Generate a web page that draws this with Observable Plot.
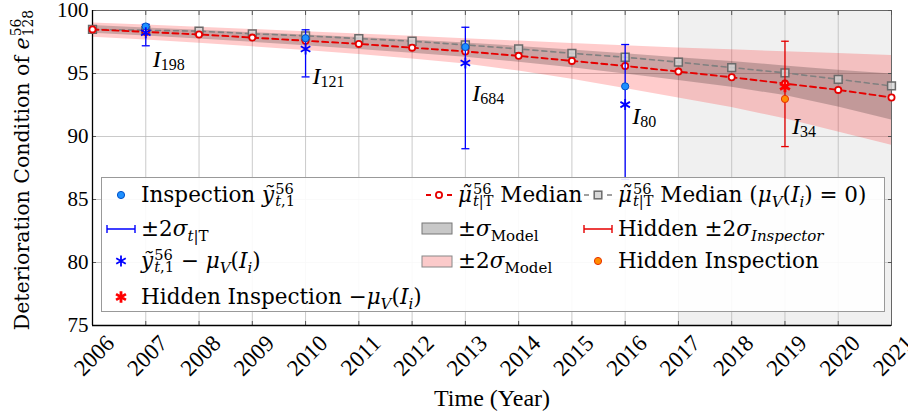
<!DOCTYPE html>
<html>
<head>
<meta charset="utf-8">
<script src="https://cdn.jsdelivr.net/npm/d3@7"></script>
<script src="https://cdn.jsdelivr.net/npm/@observablehq/plot@0.6"></script>
<style>
  body { margin: 0; background: #fff; }
  #wrap { position: relative; width: 908px; height: 417px; font-family: "Liberation Serif", serif; color: #000; overflow: hidden; }
  #wrap svg.plot { position: absolute; left: 0; top: 0; }
  .abs { position: absolute; }
  .txt { position: absolute; white-space: nowrap; font-family: "DejaVu Serif", serif; font-size: 21.5px; line-height: 1; transform: translateY(-50%); }
  .ss { display: inline-flex; flex-direction: column; font-size: 0.68em; line-height: 0.86; vertical-align: 0.57em; margin: -0.6em 0 -0.6em 1px; }
  .sb { font-size: 0.7em; vertical-align: -0.3em; line-height: 0; }
  i { font-style: italic; }
  #ylab { position: absolute; left: 22px; top: 170px; transform: translate(-50%, -50%) rotate(-90deg); white-space: nowrap; font-family: "DejaVu Serif", serif; font-size: 20.5px; line-height: 1; }
  #legendbox { position: absolute; left: 101px; top: 177px; width: 782px; height: 133px; border: 1px solid #999; background: rgba(255,255,255,0.9); }
</style>
</head>
<body>
<div id="wrap"></div>
<script>
// ---------- data ----------
const years = [2006, 2007, 2008, 2009, 2010, 2011, 2012, 2013, 2014, 2015, 2016, 2017, 2018, 2019, 2020, 2021];
const medianRed  = [98.5, 98.3, 98.1, 97.85, 97.6, 97.35, 97.05, 96.75, 96.4, 96.0, 95.6, 95.15, 94.7, 94.2, 93.7, 93.1];
const medianZero = [98.5, 98.43, 98.36, 98.15, 97.99, 97.77, 97.56, 97.27, 96.95, 96.6, 96.29, 95.9, 95.47, 95.05, 94.54, 94.01];
const sigma1Hi = [98.8, 98.62, 98.43, 98.24, 98.05, 97.85, 97.65, 97.43, 97.15, 96.86, 96.56, 96.25, 95.95, 95.6, 95.25, 94.97];
const sigma1Lo = [98.2, 97.98, 97.74, 97.48, 97.2, 96.9, 96.6, 96.29, 95.9, 95.45, 94.97, 94.45, 93.9, 93.25, 92.35, 91.3];
const sigma2Hi = [99.0, 98.85, 98.68, 98.5, 98.32, 98.14, 97.95, 97.75, 97.57, 97.38, 97.2, 97.03, 96.88, 96.73, 96.58, 96.42];
const sigma2Lo = [97.88, 97.65, 97.4, 97.12, 96.83, 96.5, 96.15, 95.76, 95.2, 94.55, 93.8, 93.05, 92.3, 91.4, 90.35, 89.3];

const inspYears    = [2007, 2010, 2013, 2016];
const inspObserved = [98.73, 97.8, 97.1, 93.98];
const inspAdjusted = [98.23, 96.95, 95.84, 92.53];
const inspBarLo    = [97.2, 94.73, 89.03, 86.6];
const inspBarHi    = [98.9, 98.47, 98.67, 97.3];
const inspIds      = ["198", "121", "684", "80"];
const inspLabelY   = [95.49, 94.2, 92.85, 91.0];

const hiddenYears    = [2019];
const hiddenObserved = [92.98];
const hiddenAdjusted = [93.96];
const hiddenBarLo    = [89.2];
const hiddenBarHi    = [97.56];
const hiddenIds      = ["34"];
const hiddenLabelY   = [90.22];

const forecastSpan = [2017, 2021];
const yTicks = [75, 80, 85, 90, 95, 100];

// ---------- tables ----------
const series = years.map((year, i) => ({
  year, med: medianRed[i], med0: medianZero[i],
  hi1: sigma1Hi[i], lo1: sigma1Lo[i], hi2: sigma2Hi[i], lo2: sigma2Lo[i]
}));
const insp = inspYears.map((year, i) => ({
  year, obs: inspObserved[i], adj: inspAdjusted[i], lo: inspBarLo[i], hi: inspBarHi[i], id: inspIds[i], ly: inspLabelY[i]
}));
const hidden = hiddenYears.map((year, i) => ({
  year, obs: hiddenObserved[i], adj: hiddenAdjusted[i], lo: hiddenBarLo[i], hi: hiddenBarHi[i], id: hiddenIds[i], ly: hiddenLabelY[i]
}));
const labels = insp.concat(hidden);

// horizontal cap symbol for error bars
const capSymbol = {
  draw(context, size) {
    const w = Math.sqrt(size / Math.PI);
    context.moveTo(-w, 0);
    context.lineTo(w, 0);
  }
};

const RED = "#e60000";
const BLUE = "#0000ff";
const noLabel = () => "";

const chart = Plot.plot({
  width: 908,
  height: 417,
  marginLeft: 92,
  marginRight: 17,
  marginTop: 10,
  marginBottom: 92,
  style: { fontFamily: "Liberation Serif, serif", background: "transparent", color: "#000" },
  x: { domain: [years[0], years[years.length - 1]] },
  y: { domain: [yTicks[0], yTicks[yTicks.length - 1]] },
  marks: [
    Plot.rect([{ x1: forecastSpan[0], x2: forecastSpan[1] }], { x1: "x1", x2: "x2", fill: "#f0f0f0" }),
    Plot.gridX({ ticks: years, stroke: "#b8b8b8", strokeOpacity: 0.75, strokeWidth: 1 }),
    Plot.gridY({ ticks: yTicks, stroke: "#b8b8b8", strokeOpacity: 0.75, strokeWidth: 1 }),
    Plot.areaY(series, { x: "year", y1: "lo2", y2: "hi2", fill: "#ff0000", fillOpacity: 0.2 }),
    Plot.areaY(series, { x: "year", y1: "lo1", y2: "hi1", fill: "#000000", fillOpacity: 0.2 }),
    Plot.frame({ stroke: "#666", strokeWidth: 1 }),
    // inward tick marks on all four sides
    Plot.axisX({ anchor: "bottom", ticks: years, tickSize: 4, dy: -4, tickFormat: noLabel, stroke: "#555", label: null }),
    Plot.axisX({ anchor: "top", ticks: years, tickSize: 4, dy: 4, tickFormat: noLabel, stroke: "#555", label: null }),
    Plot.axisY({ anchor: "left", ticks: yTicks, tickSize: 4, dx: 4, tickFormat: noLabel, stroke: "#555", label: null }),
    Plot.axisY({ anchor: "right", ticks: yTicks, tickSize: 4, dx: -4, tickFormat: noLabel, stroke: "#555", label: null }),
    Plot.ruleX([years[0]], { stroke: "#000", strokeWidth: 1.3 }),
    Plot.ruleY([yTicks[0]], { stroke: "#000", strokeWidth: 1.3 }),
    // gray median (muV = 0)
    Plot.line(series, { x: "year", y: "med0", stroke: "#808080", strokeWidth: 1.6, strokeDasharray: "5,4" }),
    Plot.dot(series, { x: "year", y: "med0", symbol: "square", r: 4.4, fill: "#d8d8d8", fillOpacity: 0.8, stroke: "#6a6a6a", strokeWidth: 1.5 }),
    // red median
    Plot.line(series, { x: "year", y: "med", stroke: RED, strokeWidth: 1.9, strokeDasharray: "6,4" }),
    Plot.dot(series, { x: "year", y: "med", r: 3.1, fill: "#fff", stroke: RED, strokeWidth: 1.8 }),
    // inspections
    Plot.ruleX(insp, { x: "year", y1: "lo", y2: "hi", stroke: BLUE, strokeWidth: 1.3 }),
    Plot.dot(insp, { x: "year", y: "lo", symbol: capSymbol, r: 4, fill: "none", stroke: BLUE, strokeWidth: 1.3 }),
    Plot.dot(insp, { x: "year", y: "hi", symbol: capSymbol, r: 4, fill: "none", stroke: BLUE, strokeWidth: 1.3 }),
    Plot.dot(insp, { x: "year", y: "obs", r: 3.6, fill: "#1e90ff", stroke: "#0050c8", strokeWidth: 1 }),
    Plot.dot(insp, { x: "year", y: "adj", symbol: "asterisk", r: 5.2, fill: "none", stroke: BLUE, strokeWidth: 1.8 }),
    // hidden inspection
    Plot.ruleX(hidden, { x: "year", y1: "lo", y2: "hi", stroke: RED, strokeWidth: 1.3 }),
    Plot.dot(hidden, { x: "year", y: "lo", symbol: capSymbol, r: 3.8, fill: "none", stroke: RED, strokeWidth: 1.3 }),
    Plot.dot(hidden, { x: "year", y: "hi", symbol: capSymbol, r: 3.8, fill: "none", stroke: RED, strokeWidth: 1.3 }),
    Plot.dot(hidden, { x: "year", y: "obs", r: 3.6, fill: "#ff8c00", stroke: "#e83000", strokeWidth: 1 }),
    Plot.dot(hidden, { x: "year", y: "adj", symbol: "asterisk", r: 5.4, fill: "none", stroke: "#ff0000", strokeWidth: 2.8 }),
    // I labels
    Plot.text(labels, { x: "year", y: "ly", text: "id", dx: 7, textAnchor: "start", lineAnchor: "bottom", fontSize: 24, fill: "#000", ariaLabel: () => "ilabel" }),
    // axes
    Plot.axisY({ ticks: yTicks, tickSize: 0, tickPadding: 4, fontSize: 21, label: null }),
    Plot.axisX({ ticks: years, tickFormat: d => String(d), tickRotate: -45, tickSize: 0, tickPadding: 14, dx: 18, fontSize: 23, label: null }),
    Plot.axisX({ ticks: [], label: "Time (Year)", labelAnchor: "center", labelArrow: "none", labelOffset: 80, fontSize: 24 })
  ]
});
chart.classList.add("plot");

// subscripted I labels
d3.select(chart).selectAll('text[aria-label="ilabel"]').each(function () {
  const id = this.textContent;
  const t = d3.select(this);
  t.text(null);
  t.append("tspan").attr("font-style", "italic").text("I");
  t.append("tspan").attr("font-size", 16).attr("dy", 3).text(id);
});

const wrap = document.getElementById("wrap");
wrap.appendChild(chart);

// y label
const ylab = document.createElement("div");
ylab.id = "ylab";
ylab.innerHTML = 'Deterioration Condition of <i>e</i><span class="ss"><span>56</span><span>128</span></span>';
wrap.appendChild(ylab);

// ---------- legend ----------
const box = document.createElement("div");
box.id = "legendbox";
wrap.appendChild(box);

const SVGNS = "http://www.w3.org/2000/svg";
function sym(inner, cx, cy, w, h) {
  const s = document.createElementNS(SVGNS, "svg");
  s.setAttribute("width", w); s.setAttribute("height", h);
  s.setAttribute("viewBox", `${-w / 2} ${-h / 2} ${w} ${h}`);
  s.setAttribute("class", "abs");
  s.style.left = (cx - w / 2) + "px"; s.style.top = (cy - h / 2) + "px";
  s.innerHTML = inner;
  wrap.appendChild(s);
}
function txt(html, x, cy) {
  const d = document.createElement("div");
  d.className = "txt";
  d.style.left = x + "px"; d.style.top = cy + "px";
  d.innerHTML = html;
  wrap.appendChild(d);
}
const ast = (r, c, sw) => {
  const t = r * Math.sqrt(3) / 2, u = r / 2;
  return `<path d="M0,${-r}V${r}M${-t},${-u}L${t},${u}M${-t},${u}L${t},${-u}" stroke="${c}" stroke-width="${sw}" fill="none"/>`;
};
const errbar = (c) => `<path d="M-14,0H14M-14,-4V4M14,-4V4" stroke="${c}" stroke-width="1.4" fill="none"/>`;

const ytil = '<i>ỹ</i><span class="ss"><span>56</span><span><i>t</i>,1</span></span>';
const mutil = '<i>μ̃</i><span class="ss"><span>56</span><span><i>t</i>|T</span></span>';
const muV = '<i>μ</i><span class="sb"><i>V</i></span>(<i>I</i><span class="sb"><i>i</i></span>)';

const r1 = 195, r2 = 228.5, r3 = 261, r4 = 296.7;
const c1s = 121, c1t = 141, c2s = 439, c2t = 458, c3s = 598, c3t = 618;

sym('<circle r="3.6" fill="#1e90ff" stroke="#0050c8" stroke-width="1"/>', c1s, r1, 14, 14);
txt('Inspection ' + ytil, c1t, r1);
sym(errbar(BLUE), c1s, r2, 32, 12);
txt('±2<i>σ</i><span class="sb"><i>t</i>|T</span>', c1t, r2);
sym(ast(5.5, BLUE, 1.8), c1s, r3, 16, 16);
txt(ytil + ' − ' + muV, c1t, r3);
sym(ast(5.7, "#ff0000", 2.8), c1s, r4, 16, 16);
txt('Hidden Inspection −' + muV, c1t, r4);

sym(`<path d="M-13,0H-8M8,0H13" stroke="${RED}" stroke-width="1.9"/><circle r="3.1" fill="#fff" stroke="${RED}" stroke-width="1.8"/>`, c2s, r1, 30, 12);
txt(mutil + ' Median', c2t, r1);
sym('<rect x="-15" y="-5.5" width="30" height="11" fill="#c8c8c8" stroke="#777" stroke-width="1"/>', c2s - 2, r2, 32, 13);
txt('±<i>σ</i><span class="sb">Model</span>', c2t, r2);
sym('<rect x="-15" y="-5.5" width="30" height="11" fill="#fbcaca" stroke="#888" stroke-width="1"/>', c2s - 2, r3, 32, 13);
txt('±2<i>σ</i><span class="sb">Model</span>', c2t, r3);

sym('<path d="M-14,0H-9M9,0H14" stroke="#808080" stroke-width="1.5"/><rect x="-3.8" y="-3.8" width="7.6" height="7.6" fill="#d8d8d8" stroke="#6a6a6a" stroke-width="1.5"/>', c3s, r1, 30, 12);
txt(mutil + ' Median (' + muV + ' = 0)', c3t, r1);
sym(errbar(RED), c3s, r2, 32, 12);
txt('Hidden ±2<i>σ</i><span class="sb"><i>Inspector</i></span>', c3t, r2);
sym('<circle r="3.6" fill="#ff8c00" stroke="#e83000" stroke-width="1"/>', c3s, r3, 14, 14);
txt('Hidden Inspection', c3t, r3);
</script>
</body>
</html>
